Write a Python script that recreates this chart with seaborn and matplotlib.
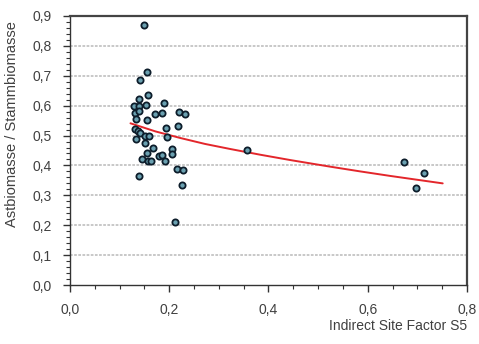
import matplotlib
matplotlib.use("Agg")
import matplotlib.pyplot as plt
from matplotlib.ticker import MultipleLocator, FixedLocator
import seaborn as sns
import pandas as pd

# Data
site_factor = [0.150, 0.155, 0.142, 0.158, 0.140, 0.129, 0.139, 0.154, 0.189, 0.132,
               0.140, 0.134, 0.171, 0.185, 0.155, 0.220, 0.232, 0.218, 0.194, 0.132,
               0.138, 0.142, 0.152, 0.160, 0.195, 0.133, 0.152, 0.167, 0.205, 0.155,
               0.205, 0.179, 0.186, 0.145, 0.157, 0.164, 0.192, 0.357, 0.216, 0.228,
               0.140, 0.226, 0.211, 0.673, 0.714, 0.698]
ratio = [0.871, 0.711, 0.687, 0.635, 0.622, 0.600, 0.599, 0.603, 0.609, 0.574,
         0.583, 0.557, 0.572, 0.576, 0.551, 0.580, 0.572, 0.533, 0.526, 0.522,
         0.516, 0.509, 0.498, 0.498, 0.496, 0.487, 0.474, 0.459, 0.454, 0.440,
         0.438, 0.432, 0.435, 0.421, 0.415, 0.415, 0.414, 0.453, 0.388, 0.384,
         0.366, 0.333, 0.210, 0.412, 0.375, 0.325]

# Fitted trend curve
curve_x = [0.122, 0.172, 0.222, 0.272, 0.323, 0.383, 0.444, 0.524, 0.585, 0.645, 0.700, 0.751]
curve_y = [0.541, 0.514, 0.492, 0.472, 0.455, 0.436, 0.418, 0.396, 0.380, 0.365, 0.352, 0.340]

x_ticks = [0.0, 0.2, 0.4, 0.6, 0.8]
x_tick_labels = ["0,0", "0,2", "0,4", "0,6", "0,8"]
y_ticks = [0.0, 0.1, 0.2, 0.3, 0.4, 0.5, 0.6, 0.7, 0.8, 0.9]
y_tick_labels = ["0,0", "0,1", "0,2", "0,3", "0,4", "0,5", "0,6", "0,7", "0,8", "0,9"]

x_label = "Indirect Site Factor S5"
y_label = "Astbiomasse / Stammbiomasse"

sns.set_style("white")
plt.rcParams["font.family"] = ["Liberation Sans", "DejaVu Sans"]

df = pd.DataFrame({"x": site_factor, "y": ratio})
curve = pd.DataFrame({"x": curve_x, "y": curve_y})

fig = plt.figure(figsize=(4.79, 3.44), dpi=100)
ax = fig.add_axes([0.146, 0.1715, 0.829, 0.782])

for yv in y_ticks[1:-1]:
    ax.axhline(yv, color="#c4c4c4", linewidth=1.3, linestyle=(0, (1.5, 0.8)), zorder=0)

sns.lineplot(data=curve, x="x", y="y", ax=ax, color="#e3262b", linewidth=1.4,
             sort=True, zorder=2)
sns.scatterplot(data=df, x="x", y="y", ax=ax, s=20, color="#6aa0b0",
                edgecolor="#0d1d2b", linewidth=1.3, zorder=3)

ax.set_xlim(0, 0.8)
ax.set_ylim(0, 0.9)
ax.xaxis.set_major_locator(FixedLocator(x_ticks))
ax.set_xticklabels(x_tick_labels)
ax.yaxis.set_major_locator(FixedLocator(y_ticks))
ax.set_yticklabels(y_tick_labels)
ax.xaxis.set_minor_locator(MultipleLocator(0.05))
ax.yaxis.set_minor_locator(MultipleLocator(0.02))

ax.tick_params(axis="both", which="major", direction="out", length=5, width=1,
               color="#333333", labelsize=10, labelcolor="#404040", pad=8)
ax.tick_params(axis="both", which="minor", direction="out", length=3, width=0.8,
               color="#333333")
ax.tick_params(axis="x", which="both", bottom=True)
ax.tick_params(axis="y", which="both", left=True)

for side in ["left", "bottom"]:
    ax.spines[side].set_color("#333333")
    ax.spines[side].set_linewidth(1.0)
for side in ["top", "right"]:
    ax.spines[side].set_color("#444444")
    ax.spines[side].set_linewidth(1.6)

ax.set_xlabel(x_label, fontsize=10, color="#404040")
ax.xaxis.set_label_coords(1.0, -0.125)
ax.xaxis.label.set_horizontalalignment("right")
ax.set_ylabel(y_label, fontsize=10.5, color="#404040")
ax.yaxis.set_label_coords(-0.128, 0.60)

fig.savefig("out.png", dpi=100, facecolor="white")
